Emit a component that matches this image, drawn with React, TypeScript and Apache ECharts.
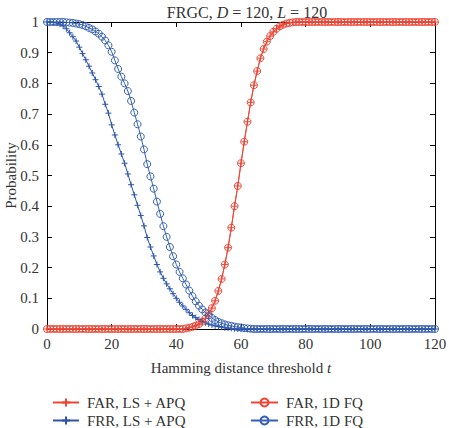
import React, { useEffect, useRef } from "react";
import * as echarts from "echarts";

// Hamming distance thresholds t = 0 … 120 (one point per integer threshold)
const T_MIN = 0;
const T_MAX = 120;
const xTicks = [0, 20, 40, 60, 80, 100, 120];
const yTicks = [0, 0.1, 0.2, 0.3, 0.4, 0.5, 0.6, 0.7, 0.8, 0.9, 1];

// FAR — identical for LS + APQ and 1D FQ
const farValues = [
  0, 0, 0, 0, 0, 0, 0, 0, 0, 0,
  0, 0, 0, 0, 0, 0, 0, 0, 0, 0,
  0, 0, 0, 0, 0, 0, 0, 0, 0, 0,
  0, 0, 0, 0, 0, 0, 0, 0, 0, 0,
  0, 0, 0, 0.002, 0.004, 0.007, 0.011, 0.016, 0.024, 0.035,
  0.05, 0.068, 0.092, 0.124, 0.163, 0.21, 0.265, 0.33, 0.4, 0.466,
  0.54, 0.61, 0.675, 0.738, 0.794, 0.84, 0.882, 0.912, 0.936, 0.954,
  0.968, 0.978, 0.986, 0.991, 0.995, 0.997, 0.999, 1, 1, 1,
  1, 1, 1, 1, 1, 1, 1, 1, 1, 1,
  1, 1, 1, 1, 1, 1, 1, 1, 1, 1,
  1, 1, 1, 1, 1, 1, 1, 1, 1, 1,
  1, 1, 1, 1, 1, 1, 1, 1, 1, 1,
  1,
];

// FRR — LS + APQ
const frrLsApq = [
  1, 1, 0.999, 0.997, 0.993, 0.987, 0.978, 0.965, 0.952, 0.938,
  0.918, 0.897, 0.877, 0.856, 0.834, 0.812, 0.79, 0.765, 0.732, 0.703,
  0.665, 0.632, 0.6, 0.57, 0.54, 0.505, 0.47, 0.437, 0.403, 0.37,
  0.336, 0.298, 0.267, 0.238, 0.21, 0.186, 0.165, 0.147, 0.131, 0.115,
  0.1, 0.087, 0.075, 0.064, 0.053, 0.044, 0.037, 0.031, 0.025, 0.02,
  0.016, 0.013, 0.01, 0.008, 0.006, 0.004, 0.003, 0.002, 0.001, 0,
  0, 0, 0, 0, 0, 0, 0, 0, 0, 0,
  0, 0, 0, 0, 0, 0, 0, 0, 0, 0,
  0, 0, 0, 0, 0, 0, 0, 0, 0, 0,
  0, 0, 0, 0, 0, 0, 0, 0, 0, 0,
  0, 0, 0, 0, 0, 0, 0, 0, 0, 0,
  0, 0, 0, 0, 0, 0, 0, 0, 0, 0,
  0,
];

// FRR — 1D FQ
const frr1dFq = [
  1, 1, 1, 1, 1, 1, 0.999, 0.998, 0.997, 0.995,
  0.993, 0.99, 0.986, 0.981, 0.976, 0.969, 0.962, 0.952, 0.94, 0.924,
  0.903, 0.875, 0.847, 0.822, 0.8, 0.775, 0.743, 0.705, 0.667, 0.627,
  0.585, 0.537, 0.497, 0.457, 0.415, 0.375, 0.335, 0.3, 0.267, 0.237,
  0.21, 0.186, 0.165, 0.145, 0.125, 0.107, 0.09, 0.076, 0.064, 0.054,
  0.044, 0.036, 0.029, 0.023, 0.019, 0.015, 0.012, 0.01, 0.008, 0.006,
  0.005, 0.003, 0.002, 0.001, 0, 0, 0, 0, 0, 0,
  0, 0, 0, 0, 0, 0, 0, 0, 0, 0,
  0, 0, 0, 0, 0, 0, 0, 0, 0, 0,
  0, 0, 0, 0, 0, 0, 0, 0, 0, 0,
  0, 0, 0, 0, 0, 0, 0, 0, 0, 0,
  0, 0, 0, 0, 0, 0, 0, 0, 0, 0,
  0,
];

const RED = "#ee4636";
const BLUE = "#2d54ab";
const BLUE_LIGHT = "#3560b5";
const FONT = "'Liberation Serif', 'DejaVu Serif', serif";
const TEXT = "#333333";
const PLUS = "path://M0,5L10,5M5,0L5,10";

const toPoints = (vals: number[]) => vals.map((v, i) => [T_MIN + i, v]);

function plusSeries(name: string, vals: number[], color: string) {
  return {
    name,
    type: "line",
    data: toPoints(vals),
    symbol: PLUS,
    symbolSize: 6,
    showAllSymbol: true,
    clip: false,
    lineStyle: { color, width: 1 },
    itemStyle: { color, borderColor: color, borderWidth: 1 },
  };
}

function circleSeries(name: string, vals: number[], color: string) {
  return {
    name,
    type: "line",
    data: toPoints(vals),
    symbol: "circle",
    symbolSize: 7,
    showAllSymbol: true,
    clip: false,
    lineStyle: { color, width: 1 },
    itemStyle: { color: "rgba(255,255,255,0)", borderColor: color, borderWidth: 1 },
  };
}

const plain = { fontFamily: FONT, fontSize: 15, color: TEXT, fontWeight: "normal" };
const italic = { ...plain, fontStyle: "italic" };
const titlePlain = { ...plain, fontSize: 16 };
const titleItalic = { ...titlePlain, fontStyle: "italic" };

const axisLine = () => ({ show: true, onZero: false, lineStyle: { color: "#000", width: 1 } });
const axisTick = () => ({ show: true, inside: true, length: 5, lineStyle: { color: "#000", width: 1 } });

export default function App() {
  const ref = useRef<HTMLDivElement>(null);

  useEffect(() => {
    if (!ref.current) return;
    const chart = echarts.init(ref.current, undefined, { renderer: "svg" });

    const legendBase = () => ({
      orient: "vertical",
      top: 390,
      height: 60,
      itemHeight: 10,
      itemGap: 3,
      textStyle: { fontFamily: FONT, fontSize: 15, color: TEXT, padding: [0, 0, 0, 3] },
    });

    chart.setOption({
      animation: false,
      backgroundColor: "#ffffff",
      title: {
        text: "{n|FRGC, }{i|D}{n| = 120, }{i|L}{n| = 120}",
        left: 242,
        top: -1,
        textAlign: "center",
        textStyle: { ...titlePlain, rich: { n: titlePlain, i: titleItalic } },
      },
      grid: {
        left: 47,
        right: 14,
        top: 22,
        bottom: 99,
        containLabel: false,
        outerBoundsMode: "none",
      },
      xAxis: [
        {
          type: "value",
          min: T_MIN,
          max: T_MAX,
          interval: xTicks[1] - xTicks[0],
          position: "bottom",
          axisLine: axisLine(),
          axisTick: axisTick(),
          splitLine: { show: false },
          axisLabel: { fontFamily: FONT, fontSize: 15, color: TEXT, margin: 7 },
          name: "{n|Hamming distance threshold }{i|t}",
          nameLocation: "middle",
          nameGap: 31,
          nameMoveOverlap: false,
          nameTextStyle: { ...plain, rich: { n: plain, i: italic } },
        },
        {
          type: "value",
          min: T_MIN,
          max: T_MAX,
          interval: xTicks[1] - xTicks[0],
          position: "top",
          axisLine: axisLine(),
          axisTick: axisTick(),
          splitLine: { show: false },
          axisLabel: { show: false },
        },
      ],
      yAxis: [
        {
          type: "value",
          min: yTicks[0],
          max: yTicks[yTicks.length - 1],
          interval: 0.1,
          position: "left",
          axisLine: axisLine(),
          axisTick: axisTick(),
          splitLine: { show: false },
          axisLabel: { fontFamily: FONT, fontSize: 15, color: TEXT, margin: 8 },
          name: "Probability",
          nameLocation: "middle",
          nameGap: 29,
          nameMoveOverlap: false,
          nameTextStyle: plain,
        },
        {
          type: "value",
          min: yTicks[0],
          max: yTicks[yTicks.length - 1],
          interval: 0.1,
          position: "right",
          axisLine: axisLine(),
          axisTick: axisTick(),
          splitLine: { show: false },
          axisLabel: { show: false },
        },
      ],
      legend: [
        {
          ...legendBase(),
          left: 47,
          itemWidth: 26,
          data: ["FAR, LS + APQ", "FRR, LS + APQ"],
        },
        {
          ...legendBase(),
          left: 245,
          itemWidth: 27,
          data: ["FAR, 1D FQ", "FRR, 1D FQ"],
        },
      ],
      series: [
        plusSeries("FAR, LS + APQ", farValues, RED),
        plusSeries("FRR, LS + APQ", frrLsApq, BLUE),
        circleSeries("FAR, 1D FQ", farValues, RED),
        circleSeries("FRR, 1D FQ", frr1dFq, BLUE_LIGHT),
      ],
    });

    return () => chart.dispose();
  }, []);

  return (
    <div
      ref={ref}
      style={{ position: "fixed", left: 0, top: 0, width: 449, height: 428, background: "#fff" }}
    />
  );
}
